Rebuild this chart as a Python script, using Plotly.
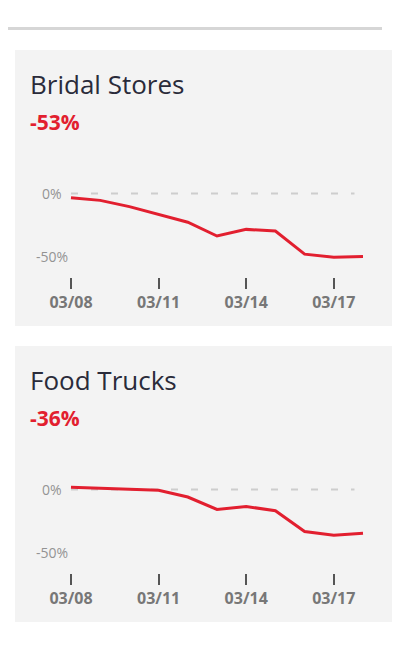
import plotly.graph_objects as go
from datetime import datetime, timedelta

# data
dates = ["2020-03-08", "2020-03-09", "2020-03-10", "2020-03-11", "2020-03-12", "2020-03-13",
         "2020-03-14", "2020-03-15", "2020-03-16", "2020-03-17", "2020-03-18"]
bridal = [-3.4, -5.5, -10.5, -16.5, -23, -34, -28.7, -30, -48.5, -51, -50.3]
food_trucks = [1.8, 1.0, 0.3, -0.6, -6, -16, -13.6, -17, -33.6, -36.5, -35]
titles = ["Bridal Stores", "Food Trucks"]
headlines = ["-53%", "-36%"]
ytick_vals = [0, -50]
ytick_text = ["0%", "-50%"]

# the page body has an 8px margin, so the figure is kept inside the window
BODY = 8
FW, FH = 394, 632
RED = "#e21f2f"
FONT = "Open Sans"


def px(x):
    # window x (px) -> paper x
    return (x - BODY) / FW


def py(y):
    # window y (px) -> paper y
    return 1 - (y - BODY) / FH


fig = go.Figure()

series = [bridal, food_trucks]
offset = 296  # vertical distance between the two cards
day0 = datetime(2020, 3, 8)
xr = [day0 - timedelta(hours=4.1), day0 + timedelta(days=10, hours=4.1)]

shapes = [dict(type="line", xref="paper", yref="paper", x0=0, x1=px(382),
               y0=py(28.5), y1=py(28.5), line=dict(color="#d6d6d6", width=3))]
annotations = []

for i, vals in enumerate(series):
    o = i * offset
    ax = "" if i == 0 else str(i + 1)
    # card background
    shapes.append(dict(type="rect", xref="paper", yref="paper", layer="below",
                       x0=px(15), x1=px(392), y0=py(50 + o), y1=py(326 + o),
                       fillcolor="#f3f3f3", line=dict(width=0)))

    fig.add_trace(go.Scatter(x=dates, y=vals, mode="lines", xaxis="x" + ax, yaxis="y" + ax,
                             line=dict(color=RED, width=3), hoverinfo="x+y", showlegend=False))

    # plot area: 170..277 px, 0% at 193.5, 1.25 px per percent
    top, bot, zero = 170 + o, 277 + o, 193.5 + o
    fig.update_layout({
        "xaxis" + ax: dict(domain=[px(66), px(368)], range=xr, type="date",
                           anchor="y" + ax, tick0=dates[0], dtick=3 * 86400000,
                           tickformat="%m/%d", ticks="outside", ticklen=11, tickwidth=2,
                           tickcolor="#555", showgrid=False, zeroline=False, showline=False,
                           automargin=False,
                           tickfont=dict(family=FONT, size=16, color="#777777", weight="bold")),
        "yaxis" + ax: dict(domain=[py(bot), py(top)],
                           range=[-(bot - zero) / 1.25, (zero - top) / 1.25],
                           anchor="x" + ax, showgrid=False, zeroline=False, showline=False,
                           showticklabels=False, ticks="", automargin=False),
    })

    # dashed zero line
    shapes.append(dict(type="line", xref="x" + ax, yref="y" + ax,
                       x0=dates[0], x1="2020-03-17 17:00", y0=0, y1=0,
                       line=dict(color="#cdcdcd", width=2, dash="7px,13px"), layer="below"))

    for v, t in zip(ytick_vals, ytick_text):
        annotations.append(dict(text=t, xref="paper", yref="y" + ax, x=px(52), y=v,
                                xanchor="center", yanchor="middle", showarrow=False,
                                font=dict(family=FONT, size=14, color="#939393")))

    annotations.append(dict(text=titles[i], xref="paper", yref="paper", x=px(28), y=py(84 + o),
                            xanchor="left", yanchor="middle", showarrow=False,
                            font=dict(family=FONT, size=26, color="#2a2b3a")))
    annotations.append(dict(text="<b>" + headlines[i] + "</b>", xref="paper", yref="paper",
                            x=px(28), y=py(122 + o), xanchor="left", yanchor="middle",
                            showarrow=False, font=dict(family=FONT, size=21, color=RED)))

fig.update_layout(width=FW, height=FH, margin=dict(l=0, r=0, t=0, b=0, pad=0),
                  paper_bgcolor="white", plot_bgcolor="rgba(0,0,0,0)",
                  shapes=shapes, annotations=annotations, font=dict(family=FONT))

fig.write_html("out.html")
